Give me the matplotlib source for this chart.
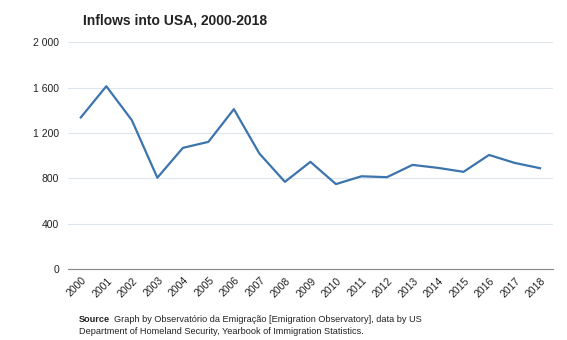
import matplotlib
matplotlib.use('Agg')
import matplotlib.pyplot as plt
import matplotlib.transforms as mtransforms

# Inflows into USA (Portuguese emigrants)
years = list(range(2000, 2019))
inflows = [1337, 1612, 1313, 806, 1069, 1122, 1410, 1019, 770, 946,
           750, 819, 811, 919, 893, 858, 1007, 937, 890]
yticks = [0, 400, 800, 1200, 1600, 2000]
ytick_labels = ['0', '400', '800', '1 200', '1 600', '2 000']

plt.rcParams['font.family'] = ['Liberation Sans', 'DejaVu Sans']

fig = plt.figure(figsize=(5.67, 3.4), dpi=100)
ax = fig.add_axes([0.12, 0.208, 0.855, 0.668])

ax.plot(years, inflows, color='#3c74ad', linewidth=1.6)

ax.set_xlim(1999.5, 2018.5)
ax.set_ylim(0, 2000)
ax.set_yticks(yticks)
ax.set_yticklabels(ytick_labels)
ax.set_xticks(years)
ax.set_xticklabels([str(y) for y in years], rotation=45, ha='right',
                   va='center', rotation_mode='anchor')
ax.tick_params(axis='both', length=0, labelsize=7.5, colors='#222222')
ax.tick_params(axis='y', pad=6.5)
ax.tick_params(axis='x', pad=7)

# shift the rotated year labels slightly right, like the reference
offset = mtransforms.ScaledTranslation(4 / 100, 0, fig.dpi_scale_trans)
for lbl in ax.get_xticklabels():
    lbl.set_transform(lbl.get_transform() + offset)

ax.grid(axis='y', color='#dde6ee', linewidth=0.8)
ax.set_axisbelow(True)
for side in ['top', 'right', 'left']:
    ax.spines[side].set_visible(False)
ax.spines['bottom'].set_color('#888888')
ax.spines['bottom'].set_linewidth(0.8)

fig.text(0.146, 0.941, 'Inflows into USA, 2000-2018', fontsize=10,
         fontweight='bold', color='#222222', va='center')

# source note: bold "Source" followed by the rest of the line
src = fig.text(0.139, 0.059, 'Source', fontsize=6.6, fontweight='bold',
               color='#222222', va='center')
fig.canvas.draw()
ax.annotate('Graph by Observatório da Emigração [Emigration Observatory], data by US',
            xy=(1, 0.5), xycoords=src, xytext=(3, 0), textcoords='offset points',
            fontsize=6.6, color='#222222', va='center', ha='left',
            annotation_clip=False)
fig.text(0.139, 0.026,
         'Department of Homeland Security, Yearbook of Immigration Statistics.',
         fontsize=6.6, color='#222222', va='center')

fig.savefig('out.png', dpi=100, facecolor='white')
